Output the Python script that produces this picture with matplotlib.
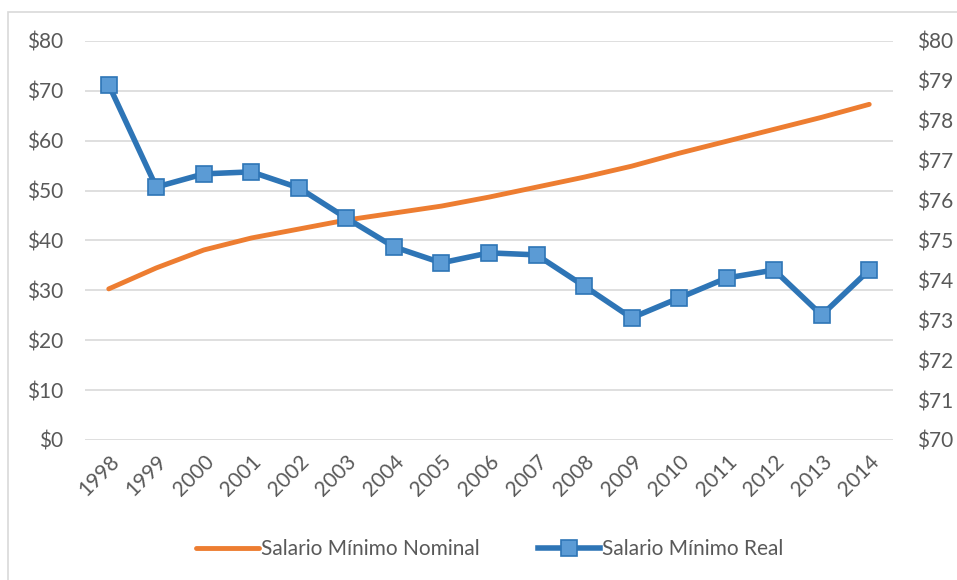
import matplotlib
matplotlib.use("Agg")
import matplotlib.pyplot as plt
from matplotlib.patches import Rectangle
from matplotlib.ticker import FuncFormatter, MultipleLocator

years = [str(y) for y in range(1998, 2015)]
nominal = [30.3, 34.5, 38.1, 40.5, 42.3, 44.1, 45.5, 46.9, 48.7, 50.7,
           52.7, 54.9, 57.5, 59.9, 62.3, 64.7, 67.3]
real = [78.90, 76.34, 76.67, 76.72, 76.32, 75.56, 74.84, 74.44, 74.69, 74.64,
        73.86, 73.06, 73.56, 74.06, 74.26, 73.13, 74.26]

plt.rcParams['font.family'] = ['Lato', 'DejaVu Sans']
txt = '#595959'
fs = 15

fig = plt.figure(figsize=(9.57, 5.80), dpi=100)
W, H = 957, 580
ax = fig.add_axes([85 / W, 1 - 440 / H, (893 - 85) / W, (440 - 41) / H])
ax2 = ax.twinx()

x = list(range(len(years)))
ax.plot(x, nominal, color='#ED7D31', lw=3.5, solid_capstyle='round', zorder=3,
        label='Salario Mínimo Nominal')
ax2.plot(x, real, color='#2E75B6', lw=4, marker='s', ms=12,
         mfc='#5B9BD5', mec='#2E75B6', mew=1.2, zorder=3,
         label='Salario Mínimo Real')

ax.set_xlim(-0.5, len(years) - 0.5)
ax.set_ylim(0, 80)
ax2.set_ylim(70, 80)
ax.yaxis.set_major_locator(MultipleLocator(10))
ax2.yaxis.set_major_locator(MultipleLocator(1))
fmt = FuncFormatter(lambda v, p: f'${v:.0f}')
ax.yaxis.set_major_formatter(fmt)
ax2.yaxis.set_major_formatter(fmt)
ax.grid(axis='y', color='#D9D9D9', lw=1.2)
ax.set_axisbelow(True)

ax.set_xticks(x)
ax.set_xticklabels(years, rotation=45, ha='right', rotation_mode='anchor')
for a in (ax, ax2):
    for s in a.spines.values():
        s.set_visible(False)
    a.tick_params(length=0, colors=txt, labelsize=fs)
ax.tick_params(axis='y', pad=16)
ax2.tick_params(axis='y', pad=17)
ax.tick_params(axis='x', pad=8)

h1, l1 = ax.get_legend_handles_labels()
h2, l2 = ax2.get_legend_handles_labels()
fig.legend(h1 + h2, l1 + l2, loc='center', bbox_to_anchor=(0.512, 1 - 549 / H),
           ncol=2, frameon=False, fontsize=fs, labelcolor=txt,
           handlelength=3.0, handletextpad=0.1, columnspacing=2.8)

fig.patches.append(Rectangle((8 / W, -0.01), 1.0, 1 - 12 / H + 0.01,
                             transform=fig.transFigure, fill=False,
                             edgecolor='#D9D9D9', lw=1.2))
fig.savefig('out.png', dpi=100)
